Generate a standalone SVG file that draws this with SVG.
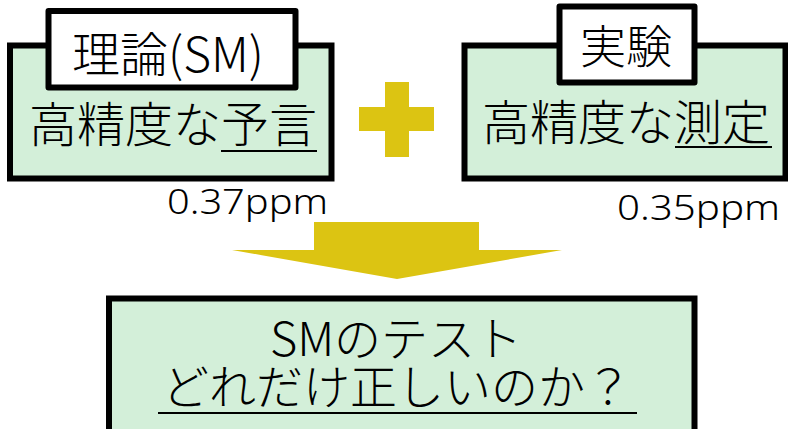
<svg xmlns="http://www.w3.org/2000/svg" width="788" height="429" viewBox="0 0 788 429">
  <style>
    .box { fill: #D3EFD9; stroke: #000; stroke-width: 6; }
    .tag { fill: #fff; stroke: #000; stroke-width: 6; stroke-linejoin: round; }
    .t { font-family: "Noto Sans CJK JP", "Noto Sans", sans-serif; fill: #000; font-weight: 300; }
    .num { font-family: "Noto Sans", "Noto Sans CJK JP", sans-serif; fill: #000; font-size: 34px; font-weight: 300; }
    .ul { stroke: #000; stroke-width: 2.2; }
    .gold { fill: #DCC412; }
  </style>
  <rect width="788" height="429" fill="#fff"/>

  <g id="node-theory">
    <rect class="box" x="10" y="45.5" width="321.5" height="133"/>
    <rect class="tag" x="48.5" y="11" width="247" height="76.5"/>
    <text class="t" x="168" y="72" font-size="48" text-anchor="middle">理論(SM)</text>
    <text class="t" x="29" y="142" font-size="48">高精度な予言</text>
    <line class="ul" x1="221" y1="151" x2="317" y2="151"/>
    <text class="num" x="328" y="214" text-anchor="end" textLength="161" lengthAdjust="spacingAndGlyphs">0.37ppm</text>
  </g>

  <g id="node-experiment">
    <rect class="box" x="464.5" y="45.5" width="321" height="133"/>
    <rect class="tag" x="559.5" y="6.5" width="135" height="76"/>
    <text class="t" x="626" y="63" font-size="46" text-anchor="middle">実験</text>
    <text class="t" x="482" y="140" font-size="48">高精度な測定</text>
    <line class="ul" x1="675" y1="147" x2="772" y2="147"/>
    <text class="num" x="780" y="220" text-anchor="end" textLength="163" lengthAdjust="spacingAndGlyphs">0.35ppm</text>
  </g>

  <g id="plus">
    <rect class="gold" x="385" y="82" width="24" height="75"/>
    <rect class="gold" x="359" y="107" width="75" height="24"/>
  </g>

  <g id="connectors">
    <polygon class="gold" points="314,222 479,222 479,250 562,250 397,279 232,250 314,250"/>
  </g>

  <g id="node-test">
    <rect class="box" x="109" y="298.5" width="585.5" height="134"/>
    <text class="t" x="396" y="356" font-size="47" text-anchor="middle">SMのテスト</text>
    <text class="t" x="397" y="404" font-size="47" text-anchor="middle" textLength="470">どれだけ正しいのか？</text>
    <line class="ul" x1="158" y1="413" x2="637" y2="413"/>
  </g>
</svg>
